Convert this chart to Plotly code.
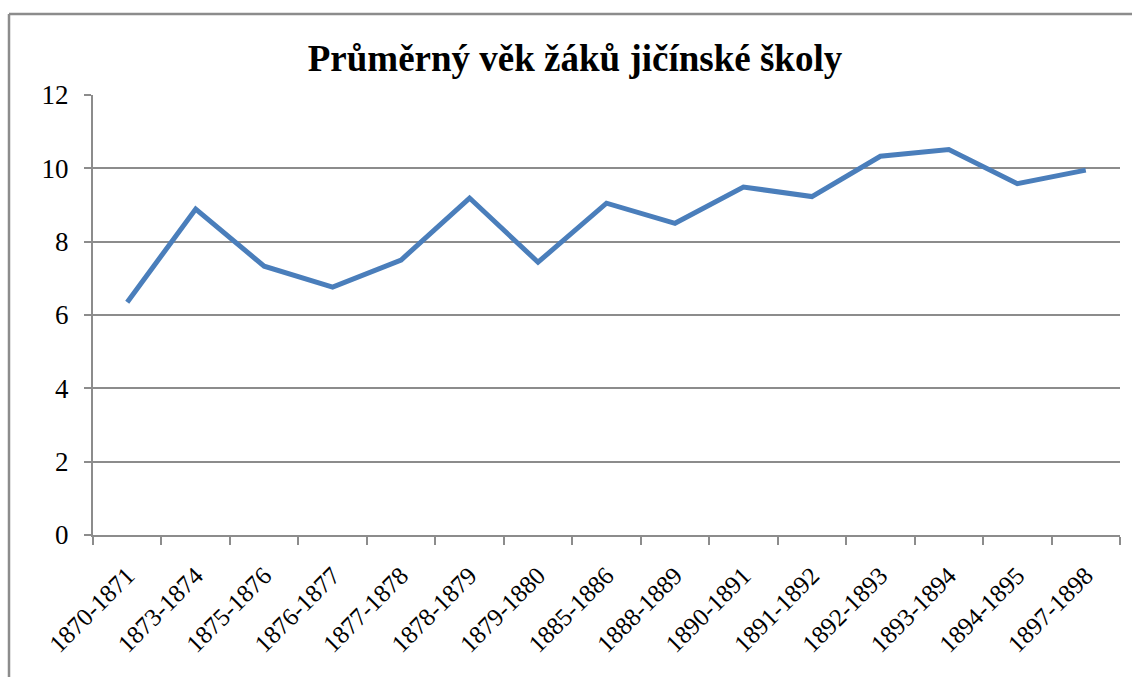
import plotly.graph_objects as go

categories = ["1870-1871", "1873-1874", "1875-1876", "1876-1877", "1877-1878",
              "1878-1879", "1879-1880", "1885-1886", "1888-1889", "1890-1891",
              "1891-1892", "1892-1893", "1893-1894", "1894-1895", "1897-1898"]
ages = [6.35, 8.89, 7.33, 6.76, 7.5, 9.19, 7.44, 9.05, 8.5, 9.49,
        9.23, 10.33, 10.51, 9.58, 9.95]
y_ticks = [0, 2, 4, 6, 8, 10, 12]

title_text = "Průměrný věk žáků jičínské školy"

W, H = 1132, 677
fig = go.Figure()
fig.add_trace(go.Scatter(x=categories, y=ages, mode="lines",
                         line=dict(color="#4A7EBB", width=5),
                         showlegend=False))

grid = "#8C8C8C"
fig.update_layout(
    width=W, height=H,
    paper_bgcolor="white", plot_bgcolor="white",
    margin=dict(l=93, r=12, t=95, b=142, autoexpand=False),
    font=dict(family="Liberation Serif, Times New Roman, serif", color="black"),
    title=dict(text="<b>" + title_text + "</b>", x=575 / W, xanchor="center",
               y=1 - 58 / H, yanchor="middle",
               font=dict(size=37, family="Liberation Serif, Times New Roman, serif")),
    xaxis=dict(type="category", tickson="boundaries", ticks="outside", ticklen=8,
               tickcolor=grid, tickwidth=2, showline=True, linecolor=grid, linewidth=2,
               showgrid=False, tickangle=-45, tickfont=dict(size=25), automargin=False,
               ticklabelstandoff=14,
               range=[-0.5, len(categories) - 0.5]),
    yaxis=dict(range=[0, 12], tickvals=y_ticks, ticks="outside", ticklen=7,
               tickcolor=grid, tickwidth=2, showline=True, linecolor=grid, linewidth=2,
               showgrid=True, gridcolor=grid, gridwidth=2, zeroline=False,
               tickfont=dict(size=27), ticklabelstandoff=10, automargin=False),
)
# outer chart frame: only the left and top edges are visible in the view
fx = (9 - 93) / 1027
fy = 1 + (95 - 14) / 440
fig.add_shape(type="line", xref="paper", yref="paper",
              x0=fx, x1=fx, y0=-1.0, y1=fy,
              line=dict(color="#8C8C8C", width=2.5), layer="below")
fig.add_shape(type="line", xref="paper", yref="paper",
              x0=fx, x1=1.5, y0=fy, y1=fy,
              line=dict(color="#8C8C8C", width=2.5), layer="below")
fig.write_html("out.html",
               config={"displayModeBar": False},
               post_script="document.body.style.margin='0';"
                           "document.body.style.overflow='hidden';")
